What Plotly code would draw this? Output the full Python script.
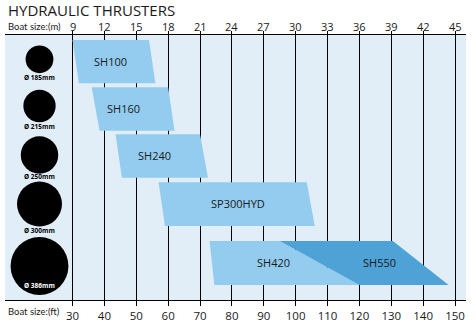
import plotly.graph_objects as go

# ---------------- data ----------------
FEET_TICKS = [30, 40, 50, 60, 70, 80, 90, 100, 110, 120, 130, 140, 150]
METER_TICKS = [9, 12, 15, 18, 21, 24, 27, 30, 33, 36, 39, 42, 45]

models = ["SH100", "SH160", "SH240", "SP300HYD", "SH420", "SH550"]
# boat-size ranges in feet (parallelogram corners: top start, top end, bottom end, bottom start)
top_start = [30, 36, 43.5, 57, 73, 95]
top_end = [54, 60, 70, 103.5, 95, 130.5]
bot_end = [56, 62, 72.5, 106, 120, 148]
bot_start = [32, 38.5, 45.5, 59, 74.5, 120]
model_row = [0, 1, 2, 3, 4, 4]

tunnel_mm = [185, 215, 250, 300, 386]
tunnel_labels = ["Ø 185mm", "Ø 215mm", "Ø 250mm", "Ø 300mm", "Ø 386mm"]

# ---------------- layout / style ----------------
W, H = 476, 329
ML, MR, MT, MB = 5, 10, 35, 29
PX_PER_FT = 3.1875
X0_PX = 72.5  # pixel of 30 ft
plot_w = W - ML - MR
x_lo = 30 - (X0_PX - ML) / PX_PER_FT
x_hi = x_lo + plot_w / PX_PER_FT
m_lo = 9 + (x_lo - 30) * 0.3
m_hi = 9 + (x_hi - 30) * 0.3
plot_h = H - MT - MB

ROW_TOP = [5, 52.3, 99.3, 147.3, 206]
ROW_BOT = [48.3, 95.7, 142.7, 191, 250]
CIRCLE_Y = [24.3, 71, 120, 169, 231]
CIRCLE_LABEL_Y = [42.3, 91.7, 141.7, 195.7, 250]
CIRCLE_X = 30 - (X0_PX - 39.5) / PX_PER_FT
LABEL_DX = [-1.1, -3.0, -2.0, 0.6, 2.5, 3.0]  # ft offset from polygon centre

LIGHT = "#93CCEF"
DARK = "#4FA2D6"
BG = "#E1EEF8"
FONT = "Open Sans"
FONT2 = "Lato"
TXT = "#1a1a1a"


def py(px):
    """pixel row in the picture -> paper y"""
    return (H - MB - px) / plot_h


fig = go.Figure()

for i, name in enumerate(models):
    r = model_row[i]
    xs = [top_start[i], top_end[i], bot_end[i], bot_start[i], top_start[i]]
    ys = [ROW_TOP[r], ROW_TOP[r], ROW_BOT[r], ROW_BOT[r], ROW_TOP[r]]
    color = DARK if name == "SH550" else LIGHT
    fig.add_trace(go.Scatter(x=xs, y=ys, mode="lines", fill="toself",
                             fillcolor=color, line=dict(width=0, color=color),
                             hoverinfo="skip", showlegend=False))
    cx = (top_start[i] + top_end[i] + bot_end[i] + bot_start[i]) / 4 + LABEL_DX[i]
    cy = (ROW_TOP[r] + ROW_BOT[r]) / 2 - 0.5
    fig.add_annotation(x=cx, y=cy, text=name, showarrow=False,
                       font=dict(family=FONT, size=11, color=TXT),
                       xanchor="center", yanchor="middle")

# tunnel circles
fig.add_trace(go.Scatter(x=[CIRCLE_X] * len(tunnel_mm), y=CIRCLE_Y, mode="markers",
                         marker=dict(size=[d * 0.15 for d in tunnel_mm], color="#000000",
                                     opacity=1, line=dict(width=0)),
                         opacity=1, hoverinfo="skip", showlegend=False))
for i, lab in enumerate(tunnel_labels):
    col = "white" if i == len(tunnel_labels) - 1 else "black"
    fig.add_annotation(x=CIRCLE_X, y=CIRCLE_LABEL_Y[i], text="<b>" + lab + "</b>",
                       showarrow=False, font=dict(family=FONT, size=6.5, color=col),
                       xanchor="center", yanchor="middle")

# invisible trace for the top (metre) axis
fig.add_trace(go.Scatter(x=[METER_TICKS[0]], y=[ROW_TOP[0]], xaxis="x2", mode="markers",
                         marker=dict(opacity=0), hoverinfo="skip", showlegend=False))

# metre tick labels
for m in METER_TICKS:
    fig.add_annotation(xref="x2", yref="paper", x=m, y=py(26.5),
                       text=str(m), showarrow=False, xanchor="center", yanchor="middle",
                       font=dict(family=FONT, size=11, color=TXT))

fig.update_layout(
    width=W, height=H,
    margin=dict(l=ML, r=MR, t=MT, b=MB),
    paper_bgcolor="white", plot_bgcolor=BG,
    showlegend=False,
    xaxis=dict(range=[x_lo, x_hi], tickvals=FEET_TICKS, ticktext=[str(v) for v in FEET_TICKS],
               showgrid=True, gridcolor="black", gridwidth=1, zeroline=False,
               showline=True, linecolor="black", linewidth=1,
               ticks="outside", ticklen=5, tickcolor="black", tickwidth=1,
               tickfont=dict(family=FONT, size=11.5, color=TXT), fixedrange=True),
    xaxis2=dict(range=[m_lo, m_hi], overlaying="x", side="top", anchor="y",
                tickvals=METER_TICKS, showticklabels=False,
                showgrid=False, zeroline=False,
                showline=True, linecolor="black", linewidth=1,
                ticks="outside", ticklen=3, tickcolor="black", tickwidth=1,
                fixedrange=True),
    yaxis=dict(range=[plot_h, 0], showgrid=False, zeroline=False, showticklabels=False,
               showline=False, fixedrange=True),
)

fig.add_annotation(xref="paper", yref="paper", x=(6 - ML) / plot_w, y=py(10),
                   text="HYDRAULIC THRUSTERS", showarrow=False, xanchor="left", yanchor="middle",
                   font=dict(family=FONT, size=15, color=TXT))
fig.add_annotation(xref="paper", yref="paper", x=(6 - ML) / plot_w, y=py(26.5),
                   text="Boat size:(m)", showarrow=False, xanchor="left", yanchor="middle",
                   font=dict(family=FONT2, size=9.5, color=TXT))
fig.add_annotation(xref="paper", yref="paper", x=(6 - ML) / plot_w, y=py(311),
                   text="Boat size:(ft)", showarrow=False, xanchor="left", yanchor="middle",
                   font=dict(family=FONT2, size=9.5, color=TXT))

fig.write_html("out.html")
